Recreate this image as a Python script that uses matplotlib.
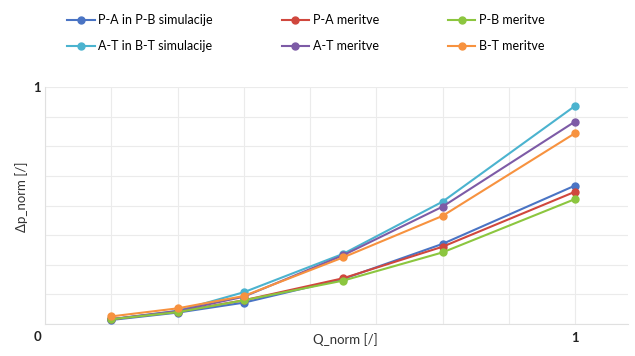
import matplotlib
matplotlib.use('Agg')
import matplotlib.pyplot as plt
from matplotlib.ticker import MultipleLocator

plt.rcParams['font.family'] = ['Lato', 'DejaVu Sans']

# data (normalised flow vs normalised pressure drop)
q_norm = [0.125, 0.25, 0.375, 0.5625, 0.75, 1.0]
pa_pb_sim = [0.017, 0.048, 0.090, 0.190, 0.338, 0.584]
pa_mer    = [0.020, 0.052, 0.100, 0.193, 0.326, 0.558]
pb_mer    = [0.020, 0.050, 0.100, 0.183, 0.302, 0.527]
at_bt_sim = [0.020, 0.055, 0.134, 0.296, 0.516, 0.920]
at_mer    = [0.020, 0.055, 0.115, 0.290, 0.495, 0.854]
bt_mer    = [0.032, 0.066, 0.118, 0.281, 0.456, 0.805]

series = [
    ('P-A in P-B simulacije', pa_pb_sim, '#4A74C4'),
    ('A-T in B-T simulacije', at_bt_sim, '#4BB3CF'),
    ('P-A meritve', pa_mer, '#D0473D'),
    ('A-T meritve', at_mer, '#7D5BA6'),
    ('P-B meritve', pb_mer, '#8CC63F'),
    ('B-T meritve', bt_mer, '#F7923F'),
]

fig = plt.figure(figsize=(6.35, 3.56), dpi=100)
ax = fig.add_axes([45/635, 1-324/356, (628-45)/635, (324-87)/356])

for name, vals, col in series:
    ax.plot(q_norm, vals, '-o', color=col, lw=1.5, ms=5, label=name, zorder=3)

ax.set_xlim(0, 1.1)
ax.set_ylim(0, 1)
ax.xaxis.set_minor_locator(MultipleLocator(0.125))
ax.yaxis.set_minor_locator(MultipleLocator(0.125))
ax.set_xticks([0, 1]); ax.set_xticklabels(['', '1'])
ax.set_yticks([0, 1]); ax.set_yticklabels(['', '1'])
ax.grid(True, which='both', color='#ebebeb', lw=0.8, zorder=0)
ax.tick_params(which='both', length=0, labelsize=9.5, colors='#222222', pad=6)
ax.tick_params(axis='y', pad=3)
for lab in ax.get_xticklabels() + ax.get_yticklabels():
    lab.set_fontweight('bold')
for s in ['top', 'right']:
    ax.spines[s].set_visible(False)
for s in ['left', 'bottom']:
    ax.spines[s].set_color('#e0e0e0')
fig.text(38/635, 1-337/356, '0', fontsize=9.5, fontweight='bold', color='#222222',
         ha='center', va='center')

ax.set_xlabel('Q_norm [/]', fontsize=9.5, color='#333333')
ax.xaxis.set_label_coords((345-45)/(628-45), -(340-324)/(324-87), transform=ax.transAxes)
ax.xaxis.label.set_va('center')
ax.set_ylabel('Δp_norm [/]', fontsize=9.5, color='#333333')
ax.yaxis.set_label_coords(-(45-22)/(628-45), (324-197)/(324-87), transform=ax.transAxes)
ax.yaxis.label.set_va('center')

fig.legend(loc='center', bbox_to_anchor=(306/635, 1-33/356), ncol=3, frameon=False,
           fontsize=9, columnspacing=5.5, handlelength=2.2, handletextpad=0.3,
           labelspacing=1.1)

fig.savefig('out.png', dpi=100)
